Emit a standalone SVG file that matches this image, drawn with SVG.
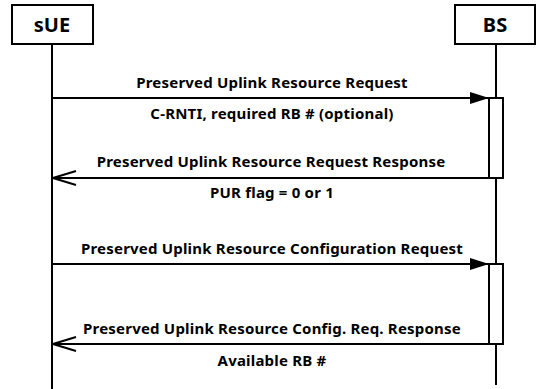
<svg xmlns="http://www.w3.org/2000/svg" width="537" height="389" viewBox="0 0 537 389">
<defs>
<style>
.box{fill:#fff;stroke:#000;stroke-width:2}
.life{stroke:#000;stroke-width:2;fill:none}
.act{fill:#fff;stroke:#000;stroke-width:2}
.msg{stroke:#000;stroke-width:2;fill:none}
.t{font-family:"Noto Sans","Open Sans",sans-serif;font-weight:bold;font-size:15px;letter-spacing:0.2px;text-anchor:middle;fill:#000}
.h{font-family:"Noto Sans","Open Sans",sans-serif;font-weight:bold;font-size:20px;text-anchor:middle;fill:#000}
</style>
<marker id="fill" markerWidth="20" markerHeight="12" refX="19" refY="6" orient="auto" markerUnits="userSpaceOnUse">
<path d="M0,0 L19,6 L0,12 Z" fill="#000"/>
</marker>
<marker id="open" markerWidth="26" markerHeight="16" refX="24" refY="8" orient="auto" markerUnits="userSpaceOnUse">
<path d="M1,1 L24,8 L1,15" fill="none" stroke="#000" stroke-width="2"/>
</marker>
</defs>
<g id="sUE">
<line class="life" x1="52" y1="44" x2="52" y2="389"/>
<rect class="box" x="12" y="5" width="81" height="39"/>
<text class="h" x="52" y="32">sUE</text>
</g>
<g id="BS">
<line class="life" x1="496" y1="44" x2="496" y2="385"/>
<rect class="box" x="455" y="5" width="80" height="39"/>
<text class="h" x="495" y="32">BS</text>
<rect class="act" x="489" y="98" width="14" height="80"/>
<rect class="act" x="489" y="264" width="14" height="80"/>
</g>
<g id="connectors">
<line class="msg" x1="52" y1="98" x2="489" y2="98" marker-end="url(#fill)"/>
<line class="msg" x1="489" y1="178" x2="53" y2="178" marker-end="url(#open)"/>
<line class="msg" x1="52" y1="264" x2="489" y2="264" marker-end="url(#fill)"/>
<line class="msg" x1="489" y1="344" x2="53" y2="344" marker-end="url(#open)"/>
</g>
<g id="labels">
<text class="t" x="272" y="88">Preserved Uplink Resource Request</text>
<text class="t" x="272" y="119">C-RNTI, required RB # (optional)</text>
<text class="t" x="271" y="167">Preserved Uplink Resource Request Response</text>
<text class="t" x="272" y="198">PUR flag = 0 or 1</text>
<text class="t" x="272" y="254">Preserved Uplink Resource Configuration Request</text>
<text class="t" x="272" y="334">Preserved Uplink Resource Config. Req. Response</text>
<text class="t" x="272" y="366">Available RB #</text>
</g>
</svg>
